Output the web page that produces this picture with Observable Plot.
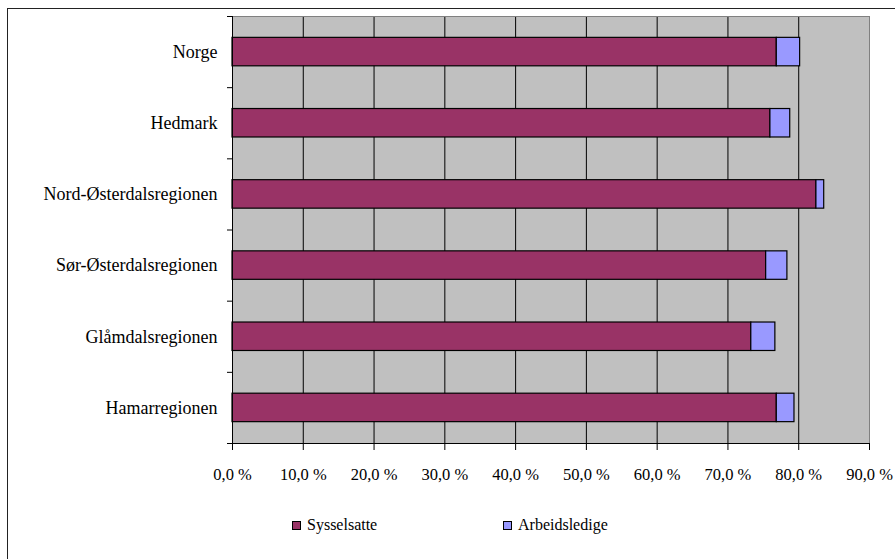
<!DOCTYPE html>
<html>
<head>
<meta charset="utf-8">
<script src="https://cdn.jsdelivr.net/npm/d3@7"></script>
<script src="https://cdn.jsdelivr.net/npm/@observablehq/plot@0.6"></script>
<style>
  html, body { margin: 0; padding: 0; background: #fff; width: 895px; height: 559px; overflow: hidden; position: relative; }
  #frame { position: absolute; left: 7px; top: 8px; width: 900px; height: 560px; border: 1.5px solid #222; box-sizing: border-box; }
  #chart { position: absolute; left: 0; top: 0; }
  .leg { position: absolute; top: 516px; font-family: "Liberation Serif", "Times New Roman", Tinos, "DejaVu Serif", serif; font-size: 16px; color: #000; display: flex; align-items: center; }
  .sw { width: 7px; height: 7px; border: 1px solid #000; margin-right: 6px; }
  svg text { font-family: "Liberation Serif", "Times New Roman", Tinos, "DejaVu Serif", serif; }
</style>
</head>
<body>
<div id="frame"></div>
<div id="chart"></div>
<div class="leg" style="left:292px"><span class="sw" style="background:#993366"></span>Sysselsatte</div>
<div class="leg" style="left:503px"><span class="sw" style="background:#9999FF"></span>Arbeidsledige</div>
<script>
const categories = ["Norge", "Hedmark", "Nord-Østerdalsregionen", "Sør-Østerdalsregionen", "Glåmdalsregionen", "Hamarregionen"];
const sysselsatte = [76.9, 76.0, 82.5, 75.4, 73.3, 76.9];
const arbeidsledige = [3.3, 2.8, 1.1, 3.0, 3.4, 2.5];
const xTicks = [0, 10, 20, 30, 40, 50, 60, 70, 80, 90];
const gridTicks = [10, 20, 30, 40, 50, 60, 70, 80];

const data = categories.map((c, i) => ({c, i, s: sysselsatte[i], a: arbeidsledige[i]}));
const bandIdx = d3.range(categories.length + 1);
const serif = "'Liberation Serif', 'Times New Roman', Tinos, 'DejaVu Serif', serif";

const chart = Plot.plot({
  width: 895,
  height: 490,
  marginLeft: 232,
  marginRight: 26,
  marginTop: 16,
  marginBottom: 47,
  style: {fontFamily: serif, fontSize: "17px", background: "transparent", color: "#000"},
  x: {domain: [0, 90], label: null},
  y: {domain: [0, categories.length], reverse: true, label: null},
  marks: [
    Plot.frame({fill: "#C0C0C0", stroke: null}),
    Plot.ruleX(gridTicks, {stroke: "#000", strokeWidth: 1}),
    Plot.rect(data, {x1: d => 0, x2: "s", y1: d => d.i + 0.3, y2: d => d.i + 0.7, fill: "#993366", stroke: "#000", strokeWidth: 1.2}),
    Plot.rect(data, {x1: "s", x2: d => d.s + d.a, y1: d => d.i + 0.3, y2: d => d.i + 0.7, fill: "#9999FF", stroke: "#000", strokeWidth: 1.2}),
    Plot.ruleX([90], {stroke: "#808080"}),
    Plot.ruleY([0], {stroke: "#808080"}),
    Plot.ruleX([0], {stroke: "#000"}),
    Plot.ruleY([categories.length], {stroke: "#000"}),
    Plot.axisX({ticks: xTicks, tickFormat: d => d.toFixed(1).replace(".", ",") + " %", tickSize: 7, tickPadding: 18, fontSize: 16.5, stroke: "#000", label: null}),
    Plot.axisY({ticks: categories.map((c, i) => i + 0.5), tickFormat: v => categories[Math.floor(v)], tickSize: 0, tickPadding: 15, fontSize: 18, label: null}),
    Plot.axisY({ticks: bandIdx, tickFormat: () => "", tickSize: 5, stroke: "#000", label: null})
  ]
});
document.getElementById("chart").appendChild(chart);
</script>
</body>
</html>
